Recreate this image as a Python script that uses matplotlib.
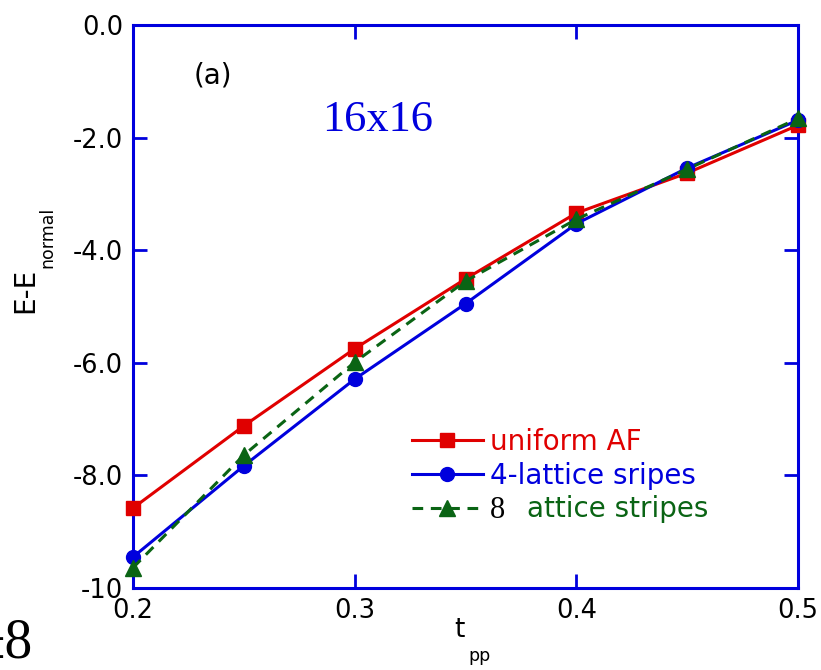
import matplotlib
matplotlib.use("Agg")
import matplotlib.pyplot as plt
from matplotlib.lines import Line2D

# t_pp values and energies
tpp = [0.2, 0.25, 0.3, 0.35, 0.4, 0.45, 0.5]
e_uniform_af = [-8.58, -7.12, -5.75, -4.51, -3.34, -2.63, -1.78]
e_4lattice = [-9.45, -7.83, -6.29, -4.95, -3.53, -2.54, -1.69]
e_8lattice = [-9.64, -7.64, -5.99, -4.55, -3.45, -2.56, -1.66]

yticks = [0, -2, -4, -6, -8, -10]
ytick_labels = ["0.0", "-2.0", "-4.0", "-6.0", "-8.0", "-10"]
xticks = [0.2, 0.3, 0.4, 0.5]
xtick_labels = ["0.2", "0.3", "0.4", "0.5"]

RED = "#e00000"
BLUE = "#0000dd"
GREEN = "#0a6414"

W, H = 821, 670
fig = plt.figure(figsize=(W / 100, H / 100), dpi=100)
ax = fig.add_axes([133 / W, 82 / H, 665 / W, 563 / H])

ax.plot(tpp, e_uniform_af, '-', color=RED, lw=2.2, marker='s', ms=10, clip_on=False, zorder=3)
ax.plot(tpp, e_4lattice, '-', color=BLUE, lw=2.2, marker='o', ms=10, clip_on=False, zorder=4)
ax.plot(tpp, e_8lattice, '--', color=GREEN, lw=2.2, marker='^', ms=11, clip_on=False, zorder=5,
        dashes=(3.5, 2.5))

ax.set_xlim(0.2, 0.5)
ax.set_ylim(-10, 0)
ax.set_xticks(xticks)
ax.set_xticklabels(xtick_labels)
ax.set_yticks(yticks)
ax.set_yticklabels(ytick_labels)

for sp in ax.spines.values():
    sp.set_color(BLUE)
    sp.set_linewidth(2.2)
ax.tick_params(direction='in', length=10, width=2, color=BLUE, labelsize=18.5,
               top=True, right=True, pad=7)

# axis labels with separate subscripts, as in the original
fig.text(459 / W, 1 - 630 / H, "t", fontsize=19, ha='center', va='center')
fig.text(479 / W, 1 - 656 / H, "pp", fontsize=12.5, ha='center', va='center')
fig.text(25 / W, 1 - 290 / H, "E-E", fontsize=20, rotation=90, ha='center', va='center')
fig.text(47 / W, 1 - 237 / H, "normal", fontsize=12.5, rotation=90, ha='center', va='center')

ax.text(0.236, -0.89, "(a)", fontsize=20, ha='center', va='center')
ax.text(0.3105, -1.69, "16x16", fontsize=32, color=BLUE, family='Liberation Serif',
        ha='center', va='center')

# legend
handles = [
    Line2D([], [], color=RED, lw=2.2, marker='s', ms=10),
    Line2D([], [], color=BLUE, lw=2.2, marker='o', ms=10),
    Line2D([], [], color=GREEN, lw=2.2, marker='^', ms=11, ls='--', dashes=(3.5, 2.5)),
]
labels = ["uniform AF", "4-lattice sripes", "8"]
leg = ax.legend(handles, labels, loc='upper left', bbox_to_anchor=(0.4195, 0.284),
                frameon=False, fontsize=20, handlelength=2.55, handletextpad=0.25,
                labelspacing=0.21, borderaxespad=0, borderpad=0)
for txt, c in zip(leg.get_texts(), [RED, BLUE, 'black']):
    txt.set_color(c)
leg.get_texts()[2].set_fontfamily('Liberation Serif')
leg.get_texts()[2].set_fontsize(22)

fig.text(527 / W, 1 - 509 / H, "attice stripes", fontsize=20, color=GREEN,
         ha='left', va='center')
fig.text(33 / W, 1 - 643 / H, "±8", fontsize=40, family='Liberation Serif',
         ha='right', va='center')

plt.savefig("out.png", dpi=100)
